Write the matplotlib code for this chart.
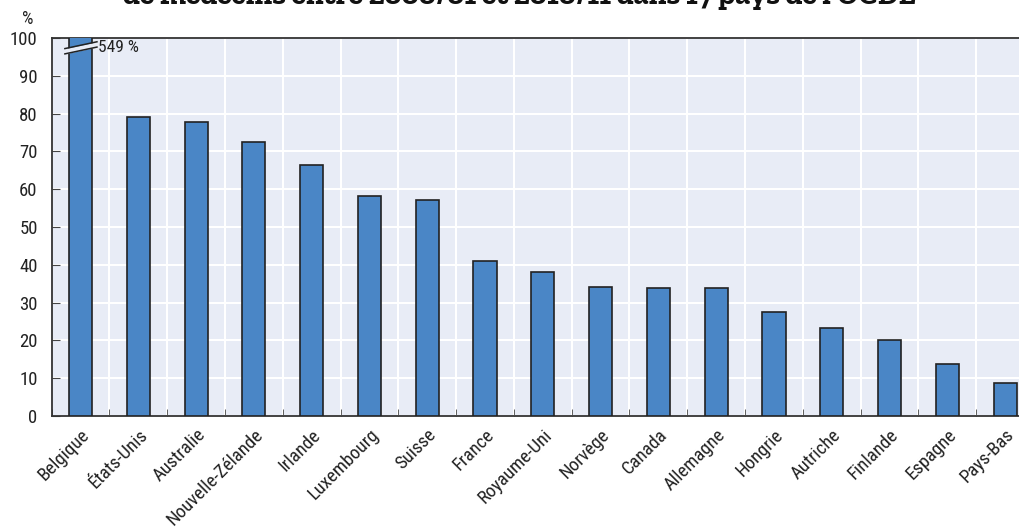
import matplotlib
matplotlib.use("Agg")
import matplotlib.pyplot as plt
from matplotlib import font_manager
import numpy as np

countries = ["Belgique", "États-Unis", "Australie", "Nouvelle-Zélande", "Irlande",
             "Luxembourg", "Suisse", "France", "Royaume-Uni", "Norvège", "Canada",
             "Allemagne", "Hongrie", "Autriche", "Finlande", "Espagne", "Pays-Bas"]
growth = [549, 79.0, 77.7, 72.5, 66.5, 58.1, 57.2, 40.9, 38.2, 34.1, 33.9,
          33.9, 27.6, 23.2, 20.1, 13.7, 8.8]
yticks = [0, 10, 20, 30, 40, 50, 60, 70, 80, 90, 100]
title = "de médecins entre 2000/01 et 2010/11 dans 17 pays de l'OCDE"
outlier_label = "549 %"

avail = {f.name for f in font_manager.fontManager.ttflist}


def pick(options, default):
    for name in options:
        if name in avail:
            return name
    return default


narrow = pick(["Roboto Condensed", "Archivo Narrow", "Liberation Sans Narrow",
               "PT Sans Narrow", "IBM Plex Sans Condensed"], "DejaVu Sans")
slab = pick(["Roboto Slab", "Zilla Slab", "Arvo", "Bitter", "DejaVu Serif"], "DejaVu Serif")
plt.rcParams["font.family"] = [narrow, "DejaVu Sans"]

bg = "#e8ecf6"
bar_color = "#4a86c6"
edge = "#222222"

fig = plt.figure(figsize=(10.2, 5.28), dpi=100)
ax = fig.add_axes([51.6 / 1020, 112 / 528, (1034 - 51.6) / 1020, 378 / 528])
ax.set_facecolor(bg)

x = np.arange(len(countries))
ax.bar(x, growth, width=0.4, color=bar_color, edgecolor=edge, linewidth=1.2, zorder=3)

ax.set_xlim(-0.5, len(countries) - 0.5)
ax.set_ylim(0, 100)
ax.set_yticks(yticks)
ax.set_yticklabels([str(v) for v in yticks], fontsize=13.5, color="#222222")
ax.set_xticks(x)
ax.set_xticklabels(countries, rotation=45, ha="right", rotation_mode="anchor",
                   fontsize=13.5, color="#222222")
ax.tick_params(axis="x", length=0, pad=7)
ax.set_xticks(np.arange(len(countries) + 1) - 0.5, minor=True)
ax.tick_params(axis="x", which="minor", direction="in", length=5, color="#444444")
ax.tick_params(axis="y", direction="in", length=6, color="#444444", pad=10)

ax.grid(axis="y", color="white", linewidth=1.5, zorder=0)
ax.grid(axis="x", which="minor", color="white", linewidth=1.5, zorder=0)
ax.grid(axis="x", which="major", visible=False)
ax.set_axisbelow(True)

for side in ["left", "bottom", "top"]:
    ax.spines[side].set_color("#333333")
    ax.spines[side].set_linewidth(1.3)
ax.spines["right"].set_visible(False)

# axis break on the outlier bar
bx = np.array([-0.27, 0.285])
low = np.array([95.8, 97.6])
high = np.array([97.2, 99.0])
ax.fill_between(bx, low, high, color=bg, zorder=4, linewidth=0)
ax.plot(bx, low, color=edge, linewidth=1.1, zorder=5, clip_on=False)
ax.plot(bx, high, color=edge, linewidth=1.1, zorder=5, clip_on=False)
ax.text(0.31, 97.5, outlier_label, fontsize=12.5, color="#222222",
        ha="left", va="center", zorder=6)

fig.text(28 / 1020, 1 - 19 / 528, "%", fontsize=13, color="#222222",
         ha="center", va="center")
fig.text(520 / 1020, 1 - 4 / 528, title, fontsize=21.5, fontweight="bold",
         family=[slab, "DejaVu Serif"], ha="center", va="baseline", color="#111111")

fig.savefig("out.png", dpi=100)
